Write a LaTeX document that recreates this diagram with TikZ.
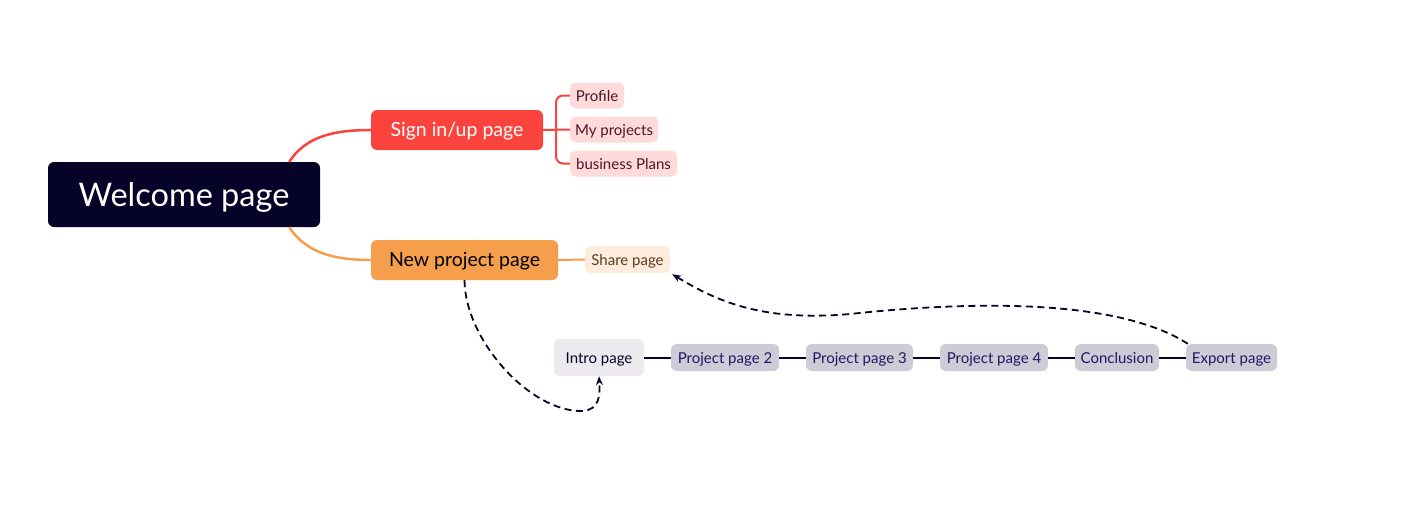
\documentclass[tikz,border=0pt]{standalone}
\usepackage{fontspec}
\setmainfont{Lato}
\usetikzlibrary{arrows.meta}
\definecolor{navy}{RGB}{5,4,40}
\definecolor{redc}{RGB}{250,67,60}
\definecolor{orangec}{RGB}{245,158,75}
\definecolor{pinkc}{RGB}{255,218,218}
\definecolor{pinktext}{RGB}{80,20,40}
\definecolor{peachc}{RGB}{253,235,220}
\definecolor{peachtext}{RGB}{90,60,30}
\definecolor{lgray}{RGB}{236,234,239}
\definecolor{grayc}{RGB}{204,203,214}
\definecolor{graytext}{RGB}{40,20,100}
\tikzset{
  x=1pt, y=-1pt,
  box/.style={rounded corners=6pt, inner sep=0pt, align=center},
  root/.style={box, fill=navy, text=white, font=\fontsize{32.5}{38}\selectfont, text height=25pt, text depth=2pt},
  mainbox/.style={box, font=\fontsize{19.5}{23}\selectfont, text height=14.5pt, text depth=1.3pt},
  pinkbox/.style={box, fill=pinkc, text=pinktext, minimum height=26pt, font=\fontsize{15}{18}\selectfont, text height=12pt, text depth=0.5pt},
  graybox/.style={box, fill=grayc, text=graytext, minimum height=27pt, font=\fontsize{15}{18}\selectfont, text height=12pt, text depth=0.5pt},
  chain/.style={draw=navy, line width=2pt},
  dashlink/.style={draw=navy, line width=1.8pt, dash pattern=on 7pt off 4.5pt, -{Stealth[length=9pt,width=7pt]}},
}
\begin{document}
\begin{tikzpicture}
\useasboundingbox (0,0) rectangle (1405,525);
% nodes
\node[root, minimum width=272pt, minimum height=65pt] (welcome) at (184,194.5) {Welcome page};
\node[mainbox, fill=redc, text=white, minimum width=172pt, minimum height=40pt] (signin) at (457,130) {Sign in/up page};
\node[mainbox, fill=orangec, text=black, minimum width=187pt, minimum height=40pt] (newproj) at (464.5,260) {New project page};
\node[pinkbox, minimum width=54pt] (profile) at (597,95.5) {Profile};
\node[pinkbox, minimum width=88pt] (myproj) at (614,129.5) {My projects};
\node[pinkbox, minimum width=107pt] (plans) at (623.5,163.5) {business Plans};
\node[pinkbox, fill=peachc, text=peachtext, minimum width=85pt, minimum height=27pt] (share) at (627.5,259.5) {Share page};
\node[graybox, fill=lgray, text=navy, minimum width=90pt, minimum height=37pt] (intro) at (599,357.5) {Intro page};
\node[graybox, minimum width=108pt] (pp2) at (725,357.5) {Project page 2};
\node[graybox, minimum width=107pt] (pp3) at (859.5,357.5) {Project page 3};
\node[graybox, minimum width=108pt] (pp4) at (994,357.5) {Project page 4};
\node[graybox, minimum width=84pt] (concl) at (1117,357.5) {Conclusion};
\node[graybox, minimum width=91pt] (export) at (1231.5,357.5) {Export page};
% branches
\draw[redc, line width=2.5pt] ([xshift=-31pt]welcome.north east) .. controls (305,138) and (330,130) .. (signin.west);
\draw[orangec, line width=2.5pt] ([xshift=-31pt]welcome.south east) .. controls (305,251) and (330,260) .. (newproj.west);
\coordinate (br) at (556,130);
\draw[redc, line width=2pt] (signin.east) -- (myproj.west);
\draw[redc, line width=2pt, rounded corners=7pt] (br) |- (profile.west);
\draw[redc, line width=2pt, rounded corners=7pt] (br) |- (plans.west);
\draw[orangec, line width=2pt] (newproj.east) -- (share.west);
% chain
\draw[chain] (intro) -- (pp2);
\draw[chain] (pp2) -- (pp3);
\draw[chain] (pp3) -- (pp4);
\draw[chain] (pp4) -- (concl);
\draw[chain] (concl) -- (export);
% dashed links
\draw[dashlink] (newproj.south) .. controls (465,340) and (530,412) .. (582,411) .. controls (600,410) and (600,395) .. (intro.south);
\draw[dashlink] ([xshift=2pt]export.north west) .. controls (1120,300) and (980,300) .. (850,314) .. controls (760,322) and (715,300) .. ([xshift=2pt,yshift=-1pt]share.south east);
\end{tikzpicture}
\end{document}
